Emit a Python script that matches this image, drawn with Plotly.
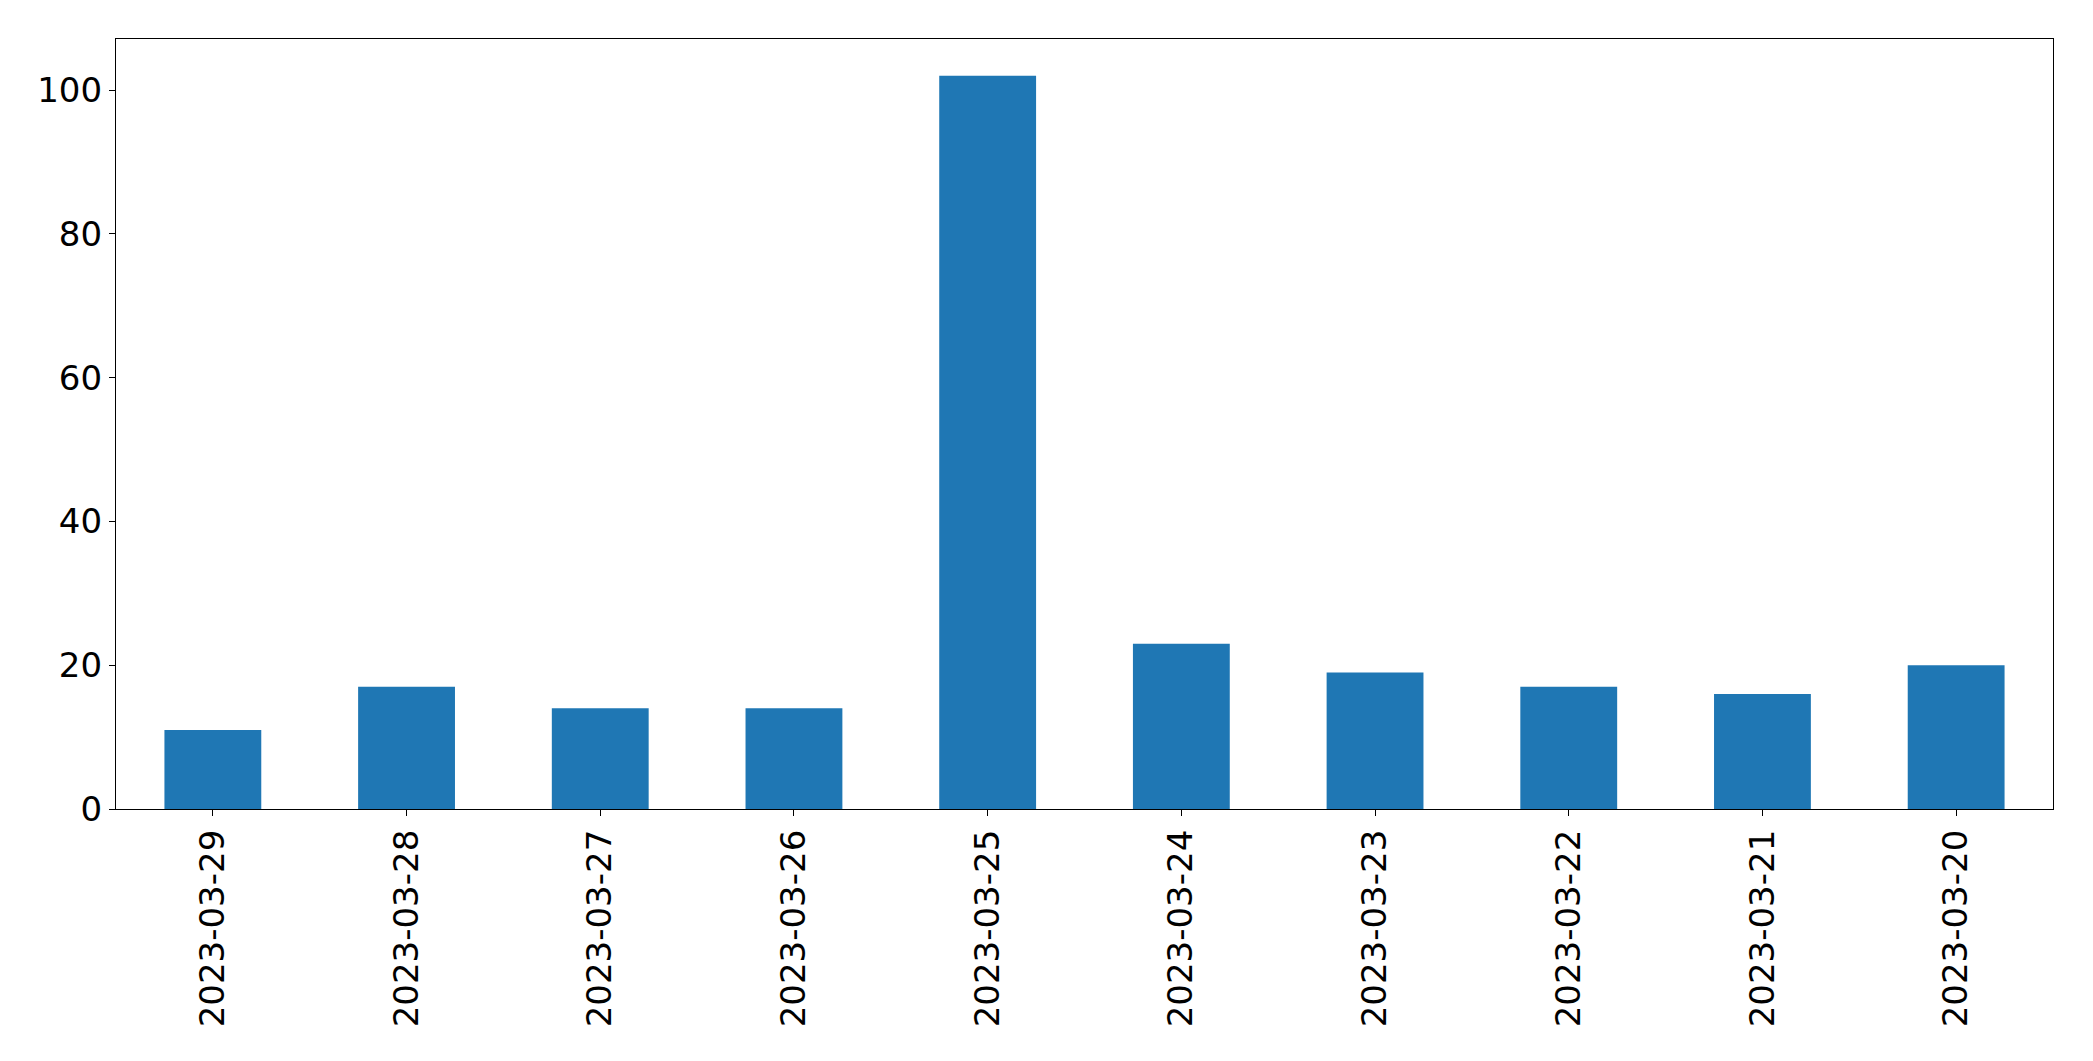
import plotly.graph_objects as go

dates = ["2023-03-29", "2023-03-28", "2023-03-27", "2023-03-26", "2023-03-25",
         "2023-03-24", "2023-03-23", "2023-03-22", "2023-03-21", "2023-03-20"]
counts = [11, 17, 14, 14, 102, 23, 19, 17, 16, 20]
y_ticks = [0, 20, 40, 60, 80, 100]

fig = go.Figure(go.Bar(x=dates, y=counts, marker_color="#1f77b4",
                       marker_line_width=0, width=0.5))

axis_font = dict(family="DejaVu Sans", size=34, color="black")
fig.update_layout(
    width=2077, height=1045,
    margin=dict(l=108, r=32, t=31, b=244, autoexpand=False),
    plot_bgcolor="white", paper_bgcolor="white",
    showlegend=False,
)
fig.update_xaxes(type="category", range=[-0.5, 9.5], tickangle=-90,
                 tickfont=axis_font, showline=True, linecolor="black", linewidth=1.3,
                 mirror=True, ticks="outside", ticklen=6, tickcolor="black",
                 showgrid=False, zeroline=False, automargin=False)
fig.update_yaxes(range=[0, 107.1], tickvals=y_ticks, tickfont=axis_font,
                 showline=True, linecolor="black", linewidth=1.3, mirror=True,
                 ticks="outside", ticklen=6, tickcolor="black",
                 showgrid=False, zeroline=False, automargin=False)

fig.write_html("out.html")
